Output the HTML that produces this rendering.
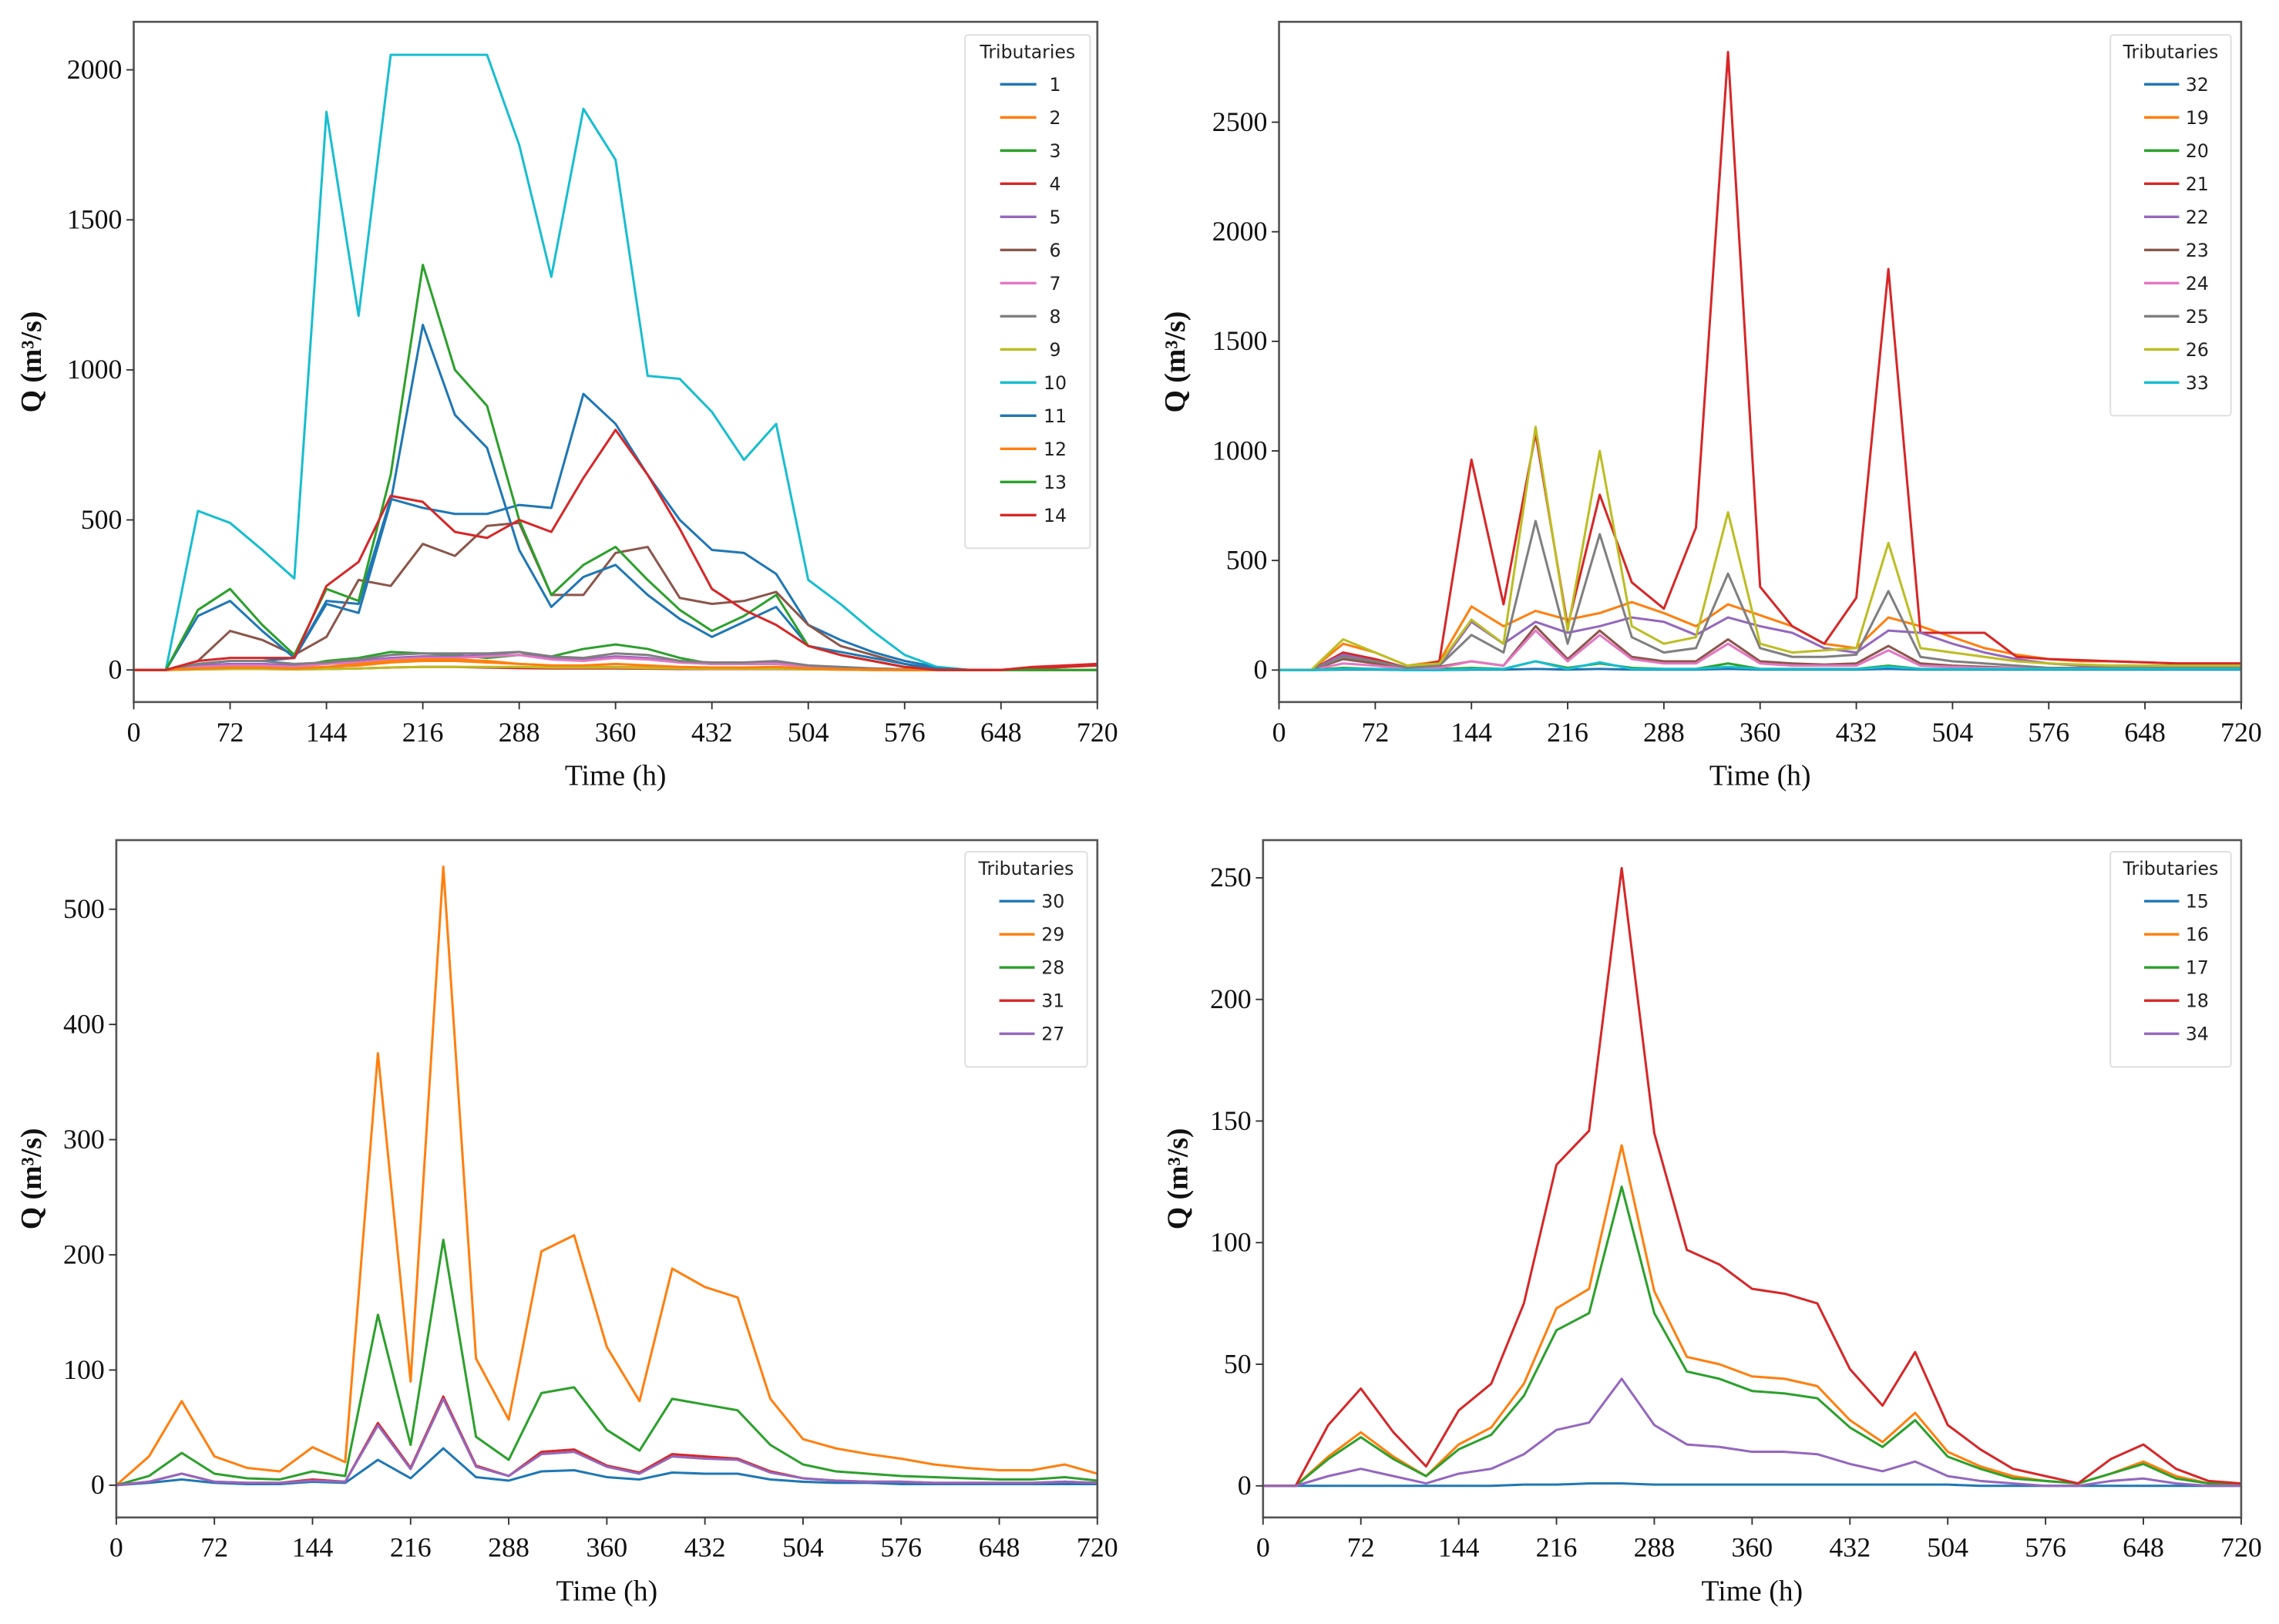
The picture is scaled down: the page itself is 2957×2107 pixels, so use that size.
<!DOCTYPE html>
<html><head><meta charset="utf-8"><style>
html,body{margin:0;padding:0;background:#fff;}
svg{display:block;}
.tick{font-family:"Liberation Serif",serif;font-size:19px;fill:#111;}
.lab{font-family:"Liberation Serif",serif;font-size:20px;fill:#111;}
.leg{font-family:"DejaVu Sans","Liberation Sans",sans-serif;font-size:12.5px;fill:#222;}
</style></head><body>
<svg id="fig" width="2957" height="2107" viewBox="0 0 1568 1117.3" xmlns="http://www.w3.org/2000/svg"></svg>
<script>
const times = [0,24,48,72,96,120,144,168,192,216,240,264,288,312,336,360,384,408,432,456,480,504,528,552,576,600,624,648,672,696,720];
const xTicks = [0,72,144,216,288,360,432,504,576,648,720];

const tlNames = ["1","2","3","4","5","6","7","8","9","10","11","12","13","14"];
const tl1  = [0,0,20,30,30,40,230,220,570,540,520,520,550,540,920,820,650,500,400,390,320,150,100,60,30,10,0,0,5,10,20];
const tl2  = [0,0,5,8,8,5,10,15,25,30,30,25,20,15,10,10,8,5,5,5,5,3,2,1,0,0,0,0,0,0,0];
const tl3  = [0,0,10,15,15,10,30,40,60,55,50,40,50,45,70,85,70,40,20,20,20,10,5,2,0,0,0,0,0,0,0];
const tl4  = [0,0,2,3,3,2,3,5,8,10,10,8,6,5,5,5,4,3,3,3,3,2,1,0,0,0,0,0,5,10,15];
const tl5  = [0,0,15,20,20,15,20,30,40,45,45,50,60,40,35,45,40,25,20,20,25,15,8,5,2,0,0,0,0,0,0];
const tl6  = [0,0,30,130,100,50,110,300,280,420,380,480,490,250,250,390,410,240,220,230,260,150,80,50,20,0,0,0,0,0,0];
const tl7  = [0,0,10,15,15,10,20,25,35,40,40,45,50,35,30,40,35,25,20,20,20,10,5,3,1,0,0,0,0,0,0];
const tl8  = [0,0,20,30,30,20,25,35,50,55,55,55,60,45,40,55,50,30,25,25,30,15,10,5,2,0,0,0,0,0,0];
const tl9  = [0,0,2,3,3,2,3,5,8,10,10,10,10,8,8,8,6,5,4,4,4,2,1,0,0,0,0,0,0,0,0];
const tl10 = [0,0,530,490,400,305,1860,1180,2050,2050,2050,2050,1750,1310,1870,1700,980,970,860,700,820,300,220,130,50,10,0,0,0,0,0];
const tl11 = [0,0,180,230,130,40,220,190,560,1150,850,740,400,210,310,350,250,170,110,160,210,80,60,40,20,5,0,0,0,0,0];
const tl12 = [0,0,5,8,8,5,10,20,30,35,35,30,20,15,15,20,15,10,8,8,10,5,2,1,0,0,0,0,0,0,0];
const tl13 = [0,0,200,270,150,50,270,230,650,1350,1000,880,500,250,350,410,300,200,130,180,250,80,50,30,10,0,0,0,0,0,0];
const tl14 = [0,0,30,40,40,40,280,360,580,560,460,440,500,460,640,800,650,470,270,200,150,80,50,30,10,0,0,0,10,15,20];

const trNames = ["32","19","20","21","22","23","24","25","26","33"];
const tr32 = [0,0,2,2,0,0,2,2,5,2,5,2,2,2,5,2,2,2,2,5,2,2,2,2,2,2,2,2,2,2,2];
const tr19 = [0,0,120,80,20,40,290,200,270,230,260,310,260,200,300,250,200,120,100,240,200,150,100,70,50,40,40,35,30,30,30];
const tr20 = [0,0,10,5,0,5,10,5,40,10,30,10,5,5,30,5,5,5,5,20,5,5,5,5,5,5,5,5,5,5,5];
const tr21 = [0,0,80,50,10,40,960,300,1080,200,800,400,280,650,2820,380,200,120,330,1830,170,170,170,60,50,45,40,35,30,30,30];
const tr22 = [0,0,70,40,10,20,220,120,220,170,200,240,220,160,240,200,170,100,80,180,170,120,80,50,30,20,20,20,20,20,20];
const tr23 = [0,0,50,30,10,15,40,20,200,50,180,60,40,40,140,40,30,25,30,110,30,20,15,10,10,10,10,10,10,10,10];
const tr24 = [0,0,30,20,5,10,40,20,180,40,160,50,30,30,120,30,20,20,20,90,20,15,10,10,10,10,10,10,10,10,10];
const tr25 = [0,0,60,40,10,20,160,80,680,120,620,150,80,100,440,100,60,60,70,360,60,40,30,20,10,10,10,10,10,10,10];
const tr26 = [0,0,140,80,20,30,230,120,1110,180,1000,200,120,150,720,120,80,90,100,580,100,80,60,40,30,25,20,20,20,20,20];
const tr33 = [0,0,5,5,0,0,5,5,40,5,35,5,5,5,15,5,5,5,5,15,5,5,5,5,5,5,5,5,5,5,5];

const blNames = ["30","29","28","31","27"];
const bl30 = [0,2,5,2,1,1,3,2,22,6,32,7,4,12,13,7,5,11,10,10,5,3,2,2,1,1,1,1,1,1,1];
const bl29 = [0,25,73,25,15,12,33,20,375,90,537,110,57,203,217,120,73,188,172,163,75,40,32,27,23,18,15,13,13,18,10];
const bl28 = [0,8,28,10,6,5,12,8,148,35,213,42,22,80,85,48,30,75,70,65,35,18,12,10,8,7,6,5,5,7,4];
const bl31 = [0,3,10,3,2,2,5,3,54,15,77,17,8,29,31,17,11,27,25,23,12,6,4,3,3,2,2,2,2,3,2];
const bl27 = [0,3,10,3,2,2,4,3,52,14,75,16,8,27,29,16,10,25,23,22,11,6,4,3,3,2,2,2,2,3,2];

const brNames = ["15","16","17","18","34"];
const br15 = [0,0,0,0,0,0,0,0,0.5,0.5,1,1,0.5,0.5,0.5,0.5,0.5,0.5,0.5,0.5,0.5,0.5,0,0,0,0,0,0,0,0,0];
const br16 = [0,0,12,22,12,4,17,24,42,73,81,140,80,53,50,45,44,41,27,18,30,14,8,4,2,1,5,10,4,1,1];
const br17 = [0,0,11,20,11,4,15,21,37,64,71,123,71,47,44,39,38,36,24,16,27,12,7,3,2,1,5,9,3,1,1];
const br18 = [0,0,25,40,22,8,31,42,75,132,146,254,145,97,91,81,79,75,48,33,55,25,15,7,4,1,11,17,7,2,1];
const br34 = [0,0,4,7,4,1,5,7,13,23,26,44,25,17,16,14,14,13,9,6,10,4,2,1,0,0,2,3,1,0,0];

const tlYTicks = [0,500,1000,1500,2000];
const trYTicks = [0,500,1000,1500,2000,2500];
const blYTicks = [0,100,200,300,400,500];
const brYTicks = [0,50,100,150,200,250];

const C = ["#1f77b4","#ff7f0e","#2ca02c","#d62728","#9467bd","#8c564b","#e377c2","#7f7f7f","#bcbd22","#17becf"];
const NS = "http://www.w3.org/2000/svg";
const svg = document.getElementById('fig');
function mk(tag, attrs, parent){const e=document.createElementNS(NS,tag);for(const k in attrs)e.setAttribute(k,attrs[k]);(parent||svg).appendChild(e);return e;}

function panel(id, box, yMin, yMax, yTicks, series, names, colors, legBox, ylabX, xlabY){
  const g = mk('g',{});
  
  
  const X = t => box.x0 + (t-0)/(720-0)*(box.x1-box.x0);
  const Y = v => box.y1 - (v-yMin)/(yMax-yMin)*(box.y1-box.y0);
  const clip = mk('clipPath',{id:id+'-clip'},g);
  mk('rect',{x:box.x0,y:box.y0,width:box.x1-box.x0,height:box.y1-box.y0},clip);
  series.forEach((s,i)=>{
    const d = s.map((v,j)=>(j?'L':'M')+X(times[j]).toFixed(2)+' '+Y(v).toFixed(2)).join(' ');
    const p = mk('path',{d:d,fill:'none',stroke:colors[i],'stroke-width':1.6,'stroke-linejoin':'round','clip-path':'url(#'+id+'-clip)'},g);
    
    
  });
  const fr = mk('rect',{x:box.x0,y:box.y0,width:box.x1-box.x0,height:box.y1-box.y0,fill:'none',stroke:'#555','stroke-width':1.4},g);
  
  
  xTicks.forEach(t=>{
    mk('line',{x1:X(t),x2:X(t),y1:box.y1,y2:box.y1+5,stroke:'#333','stroke-width':1},g);
    const tx = mk('text',{x:X(t),y:box.y1+27,'text-anchor':'middle',class:'tick'},g);
    tx.textContent = t;
    
    
  });
  yTicks.forEach(v=>{
    mk('line',{x1:box.x0-5,x2:box.x0,y1:Y(v),y2:Y(v),stroke:'#333','stroke-width':1},g);
    const tx = mk('text',{x:box.x0-8,y:Y(v)+6,'text-anchor':'end',class:'tick'},g);
    tx.textContent = v;
    
    
  });
  const xl = mk('text',{x:(box.x0+box.x1)/2,y:xlabY,'text-anchor':'middle',class:'lab'},g);
  xl.textContent = 'Time (h)';
  
  
  const cy=(box.y0+box.y1)/2;
  const yl = mk('text',{x:ylabX,y:cy,'text-anchor':'middle',class:'lab',transform:'rotate(-90 '+ylabX+' '+cy+')','font-weight':'bold'},g);
  yl.textContent = 'Q (m³/s)';
  
  
  const lg = mk('g',{},g);
  
  
  const h = 34 + names.length*22.8;
  mk('rect',{x:legBox.x,y:legBox.y,width:legBox.w,height:h,fill:'#fff',stroke:'#ddd','stroke-width':1,rx:2},lg);
  const tt = mk('text',{x:legBox.x+legBox.w/2,y:legBox.y+16,'text-anchor':'middle',class:'leg'},lg);
  tt.textContent='Tributaries';
  
  
  names.forEach((n,i)=>{
    const yy = legBox.y+34+i*22.8;
    const e = mk('g',{},lg);
    
    
    mk('line',{x1:legBox.x+legBox.w*0.28,x2:legBox.x+legBox.w*0.57,y1:yy,y2:yy,stroke:colors[i],'stroke-width':1.8},e);
    const t = mk('text',{x:legBox.x+legBox.w*0.72,y:yy+4.5,'text-anchor':'middle',class:'leg'},e);
    t.textContent = n;
  });
}

panel('panel-top-left',{x0:92,x1:755,y0:15,y1:483},-107,2160,tlYTicks,
  [tl1,tl2,tl3,tl4,tl5,tl6,tl7,tl8,tl9,tl10,tl11,tl12,tl13,tl14],tlNames,
  [C[0],C[1],C[2],C[3],C[4],C[5],C[6],C[7],C[8],C[9],C[0],C[1],C[2],C[3]],
  {x:664,y:24,w:86},28,540);
panel('panel-top-right',{x0:880,x1:1542,y0:15,y1:483},-146,2958,trYTicks,
  [tr32,tr19,tr20,tr21,tr22,tr23,tr24,tr25,tr26,tr33],trNames,C,
  {x:1452,y:24,w:83},815,540);
panel('panel-bottom-left',{x0:80,x1:755,y0:578,y1:1044},-28,560,blYTicks,
  [bl30,bl29,bl28,bl31,bl27],blNames,[C[0],C[1],C[2],C[3],C[4]],
  {x:664,y:586,w:84},28,1101);
panel('panel-bottom-right',{x0:869,x1:1542,y0:578,y1:1044},-13,265.5,brYTicks,
  [br15,br16,br17,br18,br34],brNames,[C[0],C[1],C[2],C[3],C[4]],
  {x:1452,y:586,w:83},817,1101);
</script>
</body></html>
